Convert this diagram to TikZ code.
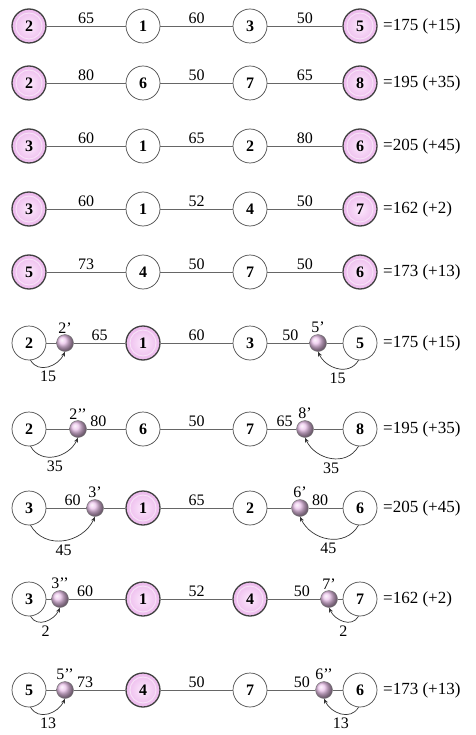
\documentclass[tikz,border=0pt]{standalone}
\usepackage{fontspec}
\setmainfont{Liberation Serif}
\usetikzlibrary{arrows.meta,shadings}

\definecolor{pinkhi}{RGB}{252,232,252}
\definecolor{pinkmid}{RGB}{236,184,236}
\definecolor{ballpink}{RGB}{236,196,236}

\tikzset{
  txt/.style={font=\fontsize{16}{16}\selectfont},
  endnode/.style={circle, draw=black!70, line width=0.7pt, fill=white,
    minimum size=34pt, inner sep=0pt, font=\bfseries\fontsize{16}{16}\selectfont},
  pinknode/.style={endnode, draw=black!75, line width=1.3pt,
    inner color=pinkhi, outer color=pinkmid,
    path picture={\draw[white!60!pinkmid, line width=0.9pt]
      (path picture bounding box.center) circle (13pt);}},
  ballnode/.style={circle, shading=ball, ball color=ballpink,
    draw=black!55, line width=0.4pt, minimum size=17pt, inner sep=0pt},
  balllabel/.style={label={[txt, inner sep=1pt]above:#1}},
  link/.style={draw=black!60, line width=0.9pt},
  weight/.style={txt, above, inner sep=1.5pt},
  arcarrow/.style={draw=black!80, line width=0.7pt, looseness=1.15,
    -{Stealth[length=5pt,width=4pt]}},
  gain/.style={txt, below, inner sep=4pt},
  total/.style={font=\fontsize{17}{17}\selectfont, anchor=west, inner sep=0pt}
}

\begin{document}
\begin{tikzpicture}[x=1pt, y=-1pt]

\useasboundingbox (0,0) rectangle (475,735);

%%%%%%%%%%%%%%%%%%%%%%%%%%%%%%%%%%%%%%%%%%%%%%%%%%%%%%%%%%%%%%
% ROW 1
%%%%%%%%%%%%%%%%%%%%%%%%%%%%%%%%%%%%%%%%%%%%%%%%%%%%%%%%%%%%%%

\node[pinknode](r1a) at (29,26) {2};
\node[endnode](r1b) at (143,26) {1};
\node[endnode](r1c) at (250,26) {3};
\node[pinknode](r1d) at (360,26) {5};
\node[total](s1) at (383,26) {=175 (+15)};

\draw[link] (r1a) -- node[weight]{65} (r1b);
\draw[link] (r1b) -- node[weight]{60} (r1c);
\draw[link] (r1c) -- node[weight]{50} (r1d);

%%%%%%%%%%%%%%%%%%%%%%%%%%%%%%%%%%%%%%%%%%%%%%%%%%%%%%%%%%%%%%
% ROW 2
%%%%%%%%%%%%%%%%%%%%%%%%%%%%%%%%%%%%%%%%%%%%%%%%%%%%%%%%%%%%%%

\node[pinknode](r2a) at (29,83) {2};
\node[endnode](r2b) at (143,83) {6};
\node[endnode](r2c) at (250,83) {7};
\node[pinknode](r2d) at (360,83) {8};
\node[total](s2) at (383,83) {=195 (+35)};

\draw[link] (r2a) -- node[weight]{80} (r2b);
\draw[link] (r2b) -- node[weight]{50} (r2c);
\draw[link] (r2c) -- node[weight]{65} (r2d);

%%%%%%%%%%%%%%%%%%%%%%%%%%%%%%%%%%%%%%%%%%%%%%%%%%%%%%%%%%%%%%
% ROW 3
%%%%%%%%%%%%%%%%%%%%%%%%%%%%%%%%%%%%%%%%%%%%%%%%%%%%%%%%%%%%%%

\node[pinknode](r3a) at (29,146) {3};
\node[endnode](r3b) at (143,146) {1};
\node[endnode](r3c) at (250,146) {2};
\node[pinknode](r3d) at (360,146) {6};
\node[total](s3) at (383,146) {=205 (+45)};

\draw[link] (r3a) -- node[weight]{60} (r3b);
\draw[link] (r3b) -- node[weight]{65} (r3c);
\draw[link] (r3c) -- node[weight]{80} (r3d);

%%%%%%%%%%%%%%%%%%%%%%%%%%%%%%%%%%%%%%%%%%%%%%%%%%%%%%%%%%%%%%
% ROW 4
%%%%%%%%%%%%%%%%%%%%%%%%%%%%%%%%%%%%%%%%%%%%%%%%%%%%%%%%%%%%%%

\node[pinknode](r4a) at (29,209) {3};
\node[endnode](r4b) at (143,209) {1};
\node[endnode](r4c) at (250,209) {4};
\node[pinknode](r4d) at (360,209) {7};
\node[total](s4) at (383,209) {=162 (+2)};

\draw[link] (r4a) -- node[weight]{60} (r4b);
\draw[link] (r4b) -- node[weight]{52} (r4c);
\draw[link] (r4c) -- node[weight]{50} (r4d);

%%%%%%%%%%%%%%%%%%%%%%%%%%%%%%%%%%%%%%%%%%%%%%%%%%%%%%%%%%%%%%
% ROW 5
%%%%%%%%%%%%%%%%%%%%%%%%%%%%%%%%%%%%%%%%%%%%%%%%%%%%%%%%%%%%%%

\node[pinknode](r5a) at (29,272) {5};
\node[endnode](r5b) at (143,272) {4};
\node[endnode](r5c) at (250,272) {7};
\node[pinknode](r5d) at (360,272) {6};
\node[total](s5) at (383,272) {=173 (+13)};

\draw[link] (r5a) -- node[weight]{73} (r5b);
\draw[link] (r5b) -- node[weight]{50} (r5c);
\draw[link] (r5c) -- node[weight]{50} (r5d);

%%%%%%%%%%%%%%%%%%%%%%%%%%%%%%%%%%%%%%%%%%%%%%%%%%%%%%%%%%%%%%
% ROW 6
%%%%%%%%%%%%%%%%%%%%%%%%%%%%%%%%%%%%%%%%%%%%%%%%%%%%%%%%%%%%%%

\node[endnode](r6a) at (29,343) {2};
\node[ballnode,balllabel={2’}](r6p) at (65,343) {};
\node[pinknode](r6b) at (143,343) {1};
\node[endnode](r6c) at (250,343) {3};
\node[ballnode,balllabel={5’}](r6q) at (318,343) {};
\node[endnode](r6d) at (360,343) {5};
\node[total](s6) at (383,343) {=175 (+15)};

\draw[link] (r6a) -- (r6p);
\draw[link] (r6p) -- node[weight]{65} (r6b);
\draw[link] (r6b) -- node[weight]{60} (r6c);
\draw[link] (r6c) -- node[weight,pos=0.55]{50} (r6q);
\draw[link] (r6q) -- (r6d);

\draw[arcarrow] (r6a.-85) to[out=-60,in=-115] node[gain]{15} (r6p.south);
\draw[arcarrow] (r6d.-95) to[out=-120,in=-65] node[gain]{15} (r6q.south);

%%%%%%%%%%%%%%%%%%%%%%%%%%%%%%%%%%%%%%%%%%%%%%%%%%%%%%%%%%%%%%
% ROW 7
%%%%%%%%%%%%%%%%%%%%%%%%%%%%%%%%%%%%%%%%%%%%%%%%%%%%%%%%%%%%%%

\node[endnode](r7a) at (29,429) {2};
\node[ballnode,balllabel={2’’}](r7p) at (78,429) {};
\node[endnode](r7b) at (143,429) {6};
\node[endnode](r7c) at (250,429) {7};
\node[ballnode,balllabel={8’}](r7q) at (305,429) {};
\node[endnode](r7d) at (360,429) {8};
\node[total](s7) at (383,429) {=195 (+35)};

\draw[link] (r7a) -- (r7p);
\draw[link] (r7p) -- node[weight,pos=0.3]{80} (r7b);
\draw[link] (r7b) -- node[weight]{50} (r7c);
\draw[link] (r7c) -- node[weight,pos=0.6]{65} (r7q);
\draw[link] (r7q) -- (r7d);

\draw[arcarrow] (r7a.-85) to[out=-60,in=-115] node[gain]{35} (r7p.south);
\draw[arcarrow] (r7d.-95) to[out=-120,in=-65] node[gain]{35} (r7q.south);

%%%%%%%%%%%%%%%%%%%%%%%%%%%%%%%%%%%%%%%%%%%%%%%%%%%%%%%%%%%%%%
% ROW 8
%%%%%%%%%%%%%%%%%%%%%%%%%%%%%%%%%%%%%%%%%%%%%%%%%%%%%%%%%%%%%%

\node[endnode](r8a) at (29,508) {3};
\node[ballnode,balllabel={3’}](r8p) at (95,508) {};
\node[pinknode](r8b) at (143,508) {1};
\node[endnode](r8c) at (250,508) {2};
\node[ballnode,balllabel={6’}](r8q) at (300,508) {};
\node[endnode](r8d) at (360,508) {6};
\node[total](s8) at (383,508) {=205 (+45)};

\draw[link] (r8a) -- node[weight,pos=0.66]{60} (r8p);
\draw[link] (r8p) -- (r8b);
\draw[link] (r8b) -- node[weight]{65} (r8c);
\draw[link] (r8c) -- (r8q);
\draw[link] (r8q) -- node[weight,pos=0.34]{80} (r8d);

\draw[arcarrow] (r8a.-85) to[out=-60,in=-115] node[gain]{45} (r8p.south);
\draw[arcarrow] (r8d.-95) to[out=-120,in=-65] node[gain]{45} (r8q.south);

%%%%%%%%%%%%%%%%%%%%%%%%%%%%%%%%%%%%%%%%%%%%%%%%%%%%%%%%%%%%%%
% ROW 9
%%%%%%%%%%%%%%%%%%%%%%%%%%%%%%%%%%%%%%%%%%%%%%%%%%%%%%%%%%%%%%

\node[endnode](r9a) at (29,599) {3};
\node[ballnode,balllabel={3’’}](r9p) at (60,599) {};
\node[pinknode](r9b) at (143,599) {1};
\node[pinknode](r9c) at (250,599) {4};
\node[ballnode,balllabel={7’}](r9q) at (329,599) {};
\node[endnode](r9d) at (360,599) {7};
\node[total](s9) at (383,599) {=162 (+2)};

\draw[link] (r9a) -- (r9p);
\draw[link] (r9p) -- node[weight,pos=0.29]{60} (r9b);
\draw[link] (r9b) -- node[weight]{52} (r9c);
\draw[link] (r9c) -- node[weight,pos=0.65]{50} (r9q);
\draw[link] (r9q) -- (r9d);

\draw[arcarrow] (r9a.-85) to[out=-60,in=-115] node[gain]{2} (r9p.south);
\draw[arcarrow] (r9d.-95) to[out=-120,in=-65] node[gain]{2} (r9q.south);

%%%%%%%%%%%%%%%%%%%%%%%%%%%%%%%%%%%%%%%%%%%%%%%%%%%%%%%%%%%%%%
% ROW 10
%%%%%%%%%%%%%%%%%%%%%%%%%%%%%%%%%%%%%%%%%%%%%%%%%%%%%%%%%%%%%%

\node[endnode](r10a) at (29,690) {5};
\node[ballnode,balllabel={5’’}](r10p) at (65,690) {};
\node[pinknode](r10b) at (143,690) {4};
\node[endnode](r10c) at (250,690) {7};
\node[ballnode,balllabel={6’’}](r10q) at (324,690) {};
\node[endnode](r10d) at (360,690) {6};
\node[total](s10) at (383,690) {=173 (+13)};

\draw[link] (r10a) -- (r10p);
\draw[link] (r10p) -- node[weight,pos=0.22]{73} (r10b);
\draw[link] (r10b) -- node[weight]{50} (r10c);
\draw[link] (r10c) -- node[weight,pos=0.72]{50} (r10q);
\draw[link] (r10q) -- (r10d);

\draw[arcarrow] (r10a.-85) to[out=-60,in=-115] node[gain]{13} (r10p.south);
\draw[arcarrow] (r10d.-95) to[out=-120,in=-65] node[gain]{13} (r10q.south);

\end{tikzpicture}
\end{document}
